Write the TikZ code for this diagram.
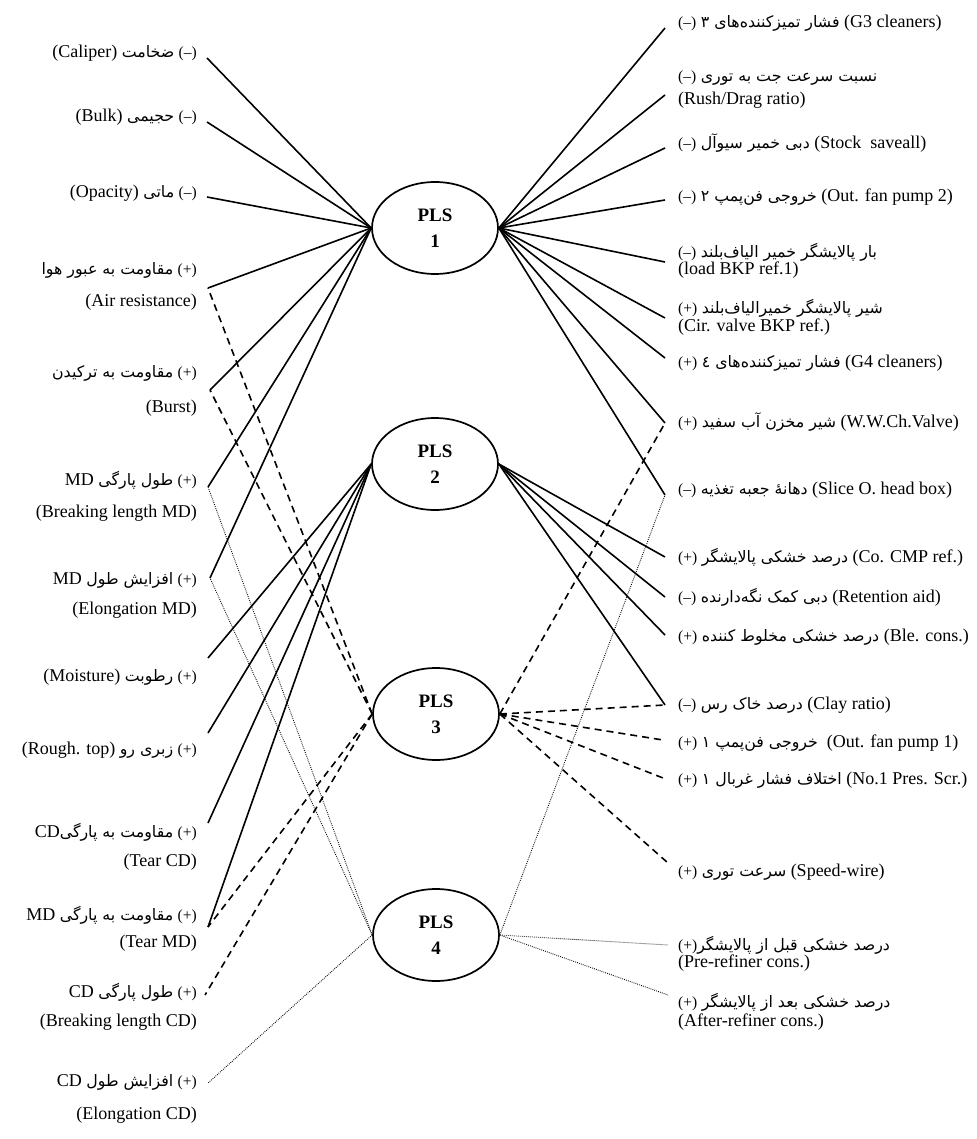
\documentclass[tikz,border=0pt]{standalone}
\usepackage{fontspec}
\setmainfont{Liberation Serif}
\newfontfamily\fafont[Script=Arabic]{DejaVu Sans}
\TeXXeTstate=1
\usetikzlibrary{shapes.geometric}
\newcommand\fat[1]{{\fafont\fontsize{15.8}{17}\selectfont\beginR #1\endR}}
\newcommand\sgn[1]{{\fontsize{15.5}{16}\selectfont(#1)}}
\tikzset{
  plsnode/.style={ellipse, draw, line width=1.7pt, minimum width=126pt, minimum height=92pt, inner sep=0pt, font=\bfseries\fontsize{19}{26}\selectfont, align=center},
  lbl/.style={inner sep=0pt, font=\fontsize{18}{20}\selectfont},
  leftlbl/.style={lbl, anchor=east},
  rightlbl/.style={lbl, anchor=west},
  solidc/.style={line width=1.6pt},
  dashc/.style={line width=1.6pt, dash pattern=on 7pt off 5pt},
  dotc/.style={line width=0.9pt, dash pattern=on 0.8pt off 1.2pt}
}
\begin{document}
\begin{tikzpicture}[x=1pt,y=-1pt]
\useasboundingbox (0,0) rectangle (976,1139);
% PLS nodes
\node[plsnode] (p1) at (435,228) {PLS\\1};
\node[plsnode] (p2) at (435,464) {PLS\\2};
\node[plsnode] (p3) at (436,714) {PLS\\3};
\node[plsnode] (p4) at (436,935) {PLS\\4};
% left labels
\node[leftlbl] (t1) at (197,53) {(Caliper) \fat{ضخامت} \sgn{–}};
\node[leftlbl] (t2) at (197,117) {(Bulk) \fat{حجیمی} \sgn{–}};
\node[leftlbl] (t3) at (197,193) {(Opacity) \fat{ماتی} \sgn{–}};
\node[leftlbl] (t4a) at (197,270) {\fat{مقاومت به عبور هوا} \sgn{+}};
\node[leftlbl] (t4b) at (197,302) {(Air resistance)};
\node[leftlbl] (t5a) at (197,373) {\fat{مقاومت به ترکیدن} \sgn{+}};
\node[leftlbl] (t5b) at (197,408) {(Burst)};
\node[leftlbl] (t6a) at (197,480) {MD \fat{طول پارگی} \sgn{+}};
\node[leftlbl] (t6b) at (197,513) {(Breaking length MD)};
\node[leftlbl] (t7a) at (197,580) {MD \fat{افزایش طول} \sgn{+}};
\node[leftlbl] (t7b) at (197,610) {(Elongation MD)};
\node[leftlbl] (t8) at (197,677) {(Moisture) \fat{رطوبت} \sgn{+}};
\node[leftlbl] (t9) at (197,750) {(Rough. top) \fat{زبری رو} \sgn{+}};
\node[leftlbl] (t10a) at (197,832) {CD\fat{مقاومت به پارگی} \sgn{+}};
\node[leftlbl] (t10b) at (197,862) {(Tear CD)};
\node[leftlbl] (t11a) at (197,915) {MD \fat{مقاومت به پارگی} \sgn{+}};
\node[leftlbl] (t11b) at (197,943) {(Tear MD)};
\node[leftlbl] (t12a) at (197,992) {CD \fat{طول پارگی} \sgn{+}};
\node[leftlbl] (t12b) at (197,1022) {(Breaking length CD)};
\node[leftlbl] (t13a) at (197,1082) {CD \fat{افزایش طول} \sgn{+}};
\node[leftlbl] (t13b) at (197,1115) {(Elongation CD)};
% right labels
\node[rightlbl] (u1) at (678,23) {\sgn{–} \fat{فشار تمیزکننده‌های ۳} (G3 cleaners)};
\node[rightlbl] (u2a) at (678,78) {\sgn{–} \fat{نسبت سرعت جت به توری}};
\node[rightlbl] (u2b) at (678,100) {(Rush/Drag ratio)};
\node[rightlbl] (u3) at (678,143) {\sgn{–} \fat{دبی خمیر سیوآل} (Stock\ \ saveall)};
\node[rightlbl] (u4) at (678,197) {\sgn{–} \fat{خروجی فن‌پمپ ۲} (Out. fan pump 2)};
\node[rightlbl] (u5a) at (678,252) {\sgn{–} \fat{بار پالایشگر خمیر الیاف‌بلند}};
\node[rightlbl] (u5b) at (678,270) {(load BKP ref.1)};
\node[rightlbl] (u6a) at (678,308) {\sgn{+} \fat{شیر پالایشگر خمیرالیاف‌بلند}};
\node[rightlbl] (u6b) at (678,327) {(Cir. valve BKP ref.)};
\node[rightlbl] (u7) at (678,363) {\sgn{+} \fat{فشار تمیزکننده‌های ٤} (G4 cleaners)};
\node[rightlbl] (u8) at (678,422) {\sgn{+} \fat{شیر مخزن آب سفید} (W.W.Ch.Valve)};
\node[rightlbl] (u9) at (678,490) {\sgn{–} \fat{دهانهٔ جعبه تغذیه} (Slice O. head box)};
\node[rightlbl] (u10) at (678,557) {\sgn{+} \fat{درصد خشکی پالایشگر} (Co. CMP ref.)};
\node[rightlbl] (u11) at (678,597) {\sgn{–} \fat{دبی کمک نگه‌دارنده} (Retention aid)};
\node[rightlbl] (u12) at (678,637) {\sgn{+} \fat{درصد خشکی مخلوط کننده} (Ble. cons.)};
\node[rightlbl] (u13) at (678,705) {\sgn{–} \fat{درصد خاک رس} (Clay ratio)};
\node[rightlbl] (u14) at (678,743) {\sgn{+} \fat{خروجی فن‌پمپ ۱}\ \ (Out. fan pump 1)};
\node[rightlbl] (u15) at (678,780) {\sgn{+} \fat{اختلاف فشار غربال ۱} (No.1 Pres. Scr.)};
\node[rightlbl] (u16) at (678,872) {\sgn{+} \fat{سرعت توری} (Speed-wire)};
\node[rightlbl] (u17a) at (678,945) {\sgn{+}\fat{درصد خشکی قبل از پالایشگر}};
\node[rightlbl] (u17b) at (678,963) {(Pre-refiner cons.)};
\node[rightlbl] (u18a) at (678,1002) {\sgn{+} \fat{درصد خشکی بعد از پالایشگر}};
\node[rightlbl] (u18b) at (678,1022) {(After-refiner cons.)};
% connector ends
\coordinate (L1) at (207,58);
\coordinate (L2) at (207,122);
\coordinate (L3) at (207,197);
\coordinate (L4) at (208,288);
\coordinate (L5) at (210,390);
\coordinate (L6) at (208,487);
\coordinate (L7) at (210,578);
\coordinate (L8) at (208,658);
\coordinate (L9) at (208,733);
\coordinate (L10) at (208,823);
\coordinate (L11) at (208,927);
\coordinate (L12) at (205,995);
\coordinate (L13) at (208,1083);
\coordinate (R1) at (665,28);
\coordinate (R2) at (665,95);
\coordinate (R3) at (665,148);
\coordinate (R4) at (665,200);
\coordinate (R5) at (665,262);
\coordinate (R6) at (665,318);
\coordinate (R7) at (665,358);
\coordinate (R8) at (665,423);
\coordinate (R9) at (665,495);
\coordinate (R10) at (665,557);
\coordinate (R11) at (665,597);
\coordinate (R12) at (665,635);
\coordinate (R13) at (665,705);
\coordinate (R14) at (663,740);
\coordinate (R15) at (663,778);
\coordinate (R16) at (668,863);
\coordinate (R17) at (668,945);
\coordinate (R18) at (668,995);
% PLS1
\foreach \e in {L1,L2,L3,L4,L5,L6,L7} \draw[solidc] (p1.west) -- (\e);
\foreach \e in {R1,R2,R3,R4,R5,R6,R7,R8,R9} \draw[solidc] (p1.east) -- (\e);
% PLS2
\foreach \e in {L8,L9,L10,L11} \draw[solidc] (p2.west) -- (\e);
\foreach \e in {R10,R11,R12,R13} \draw[solidc] (p2.east) -- (\e);
% PLS3
\foreach \e in {L4,L5,L11,L12} \draw[dashc] (p3.west) -- (\e);
\foreach \e in {R8,R13,R14,R15,R16} \draw[dashc] (p3.east) -- (\e);
% PLS4
\foreach \e in {L6,L7,L13} \draw[dotc] (p4.west) -- (\e);
\foreach \e in {R9,R17,R18} \draw[dotc] (p4.east) -- (\e);
\end{tikzpicture}
\end{document}
